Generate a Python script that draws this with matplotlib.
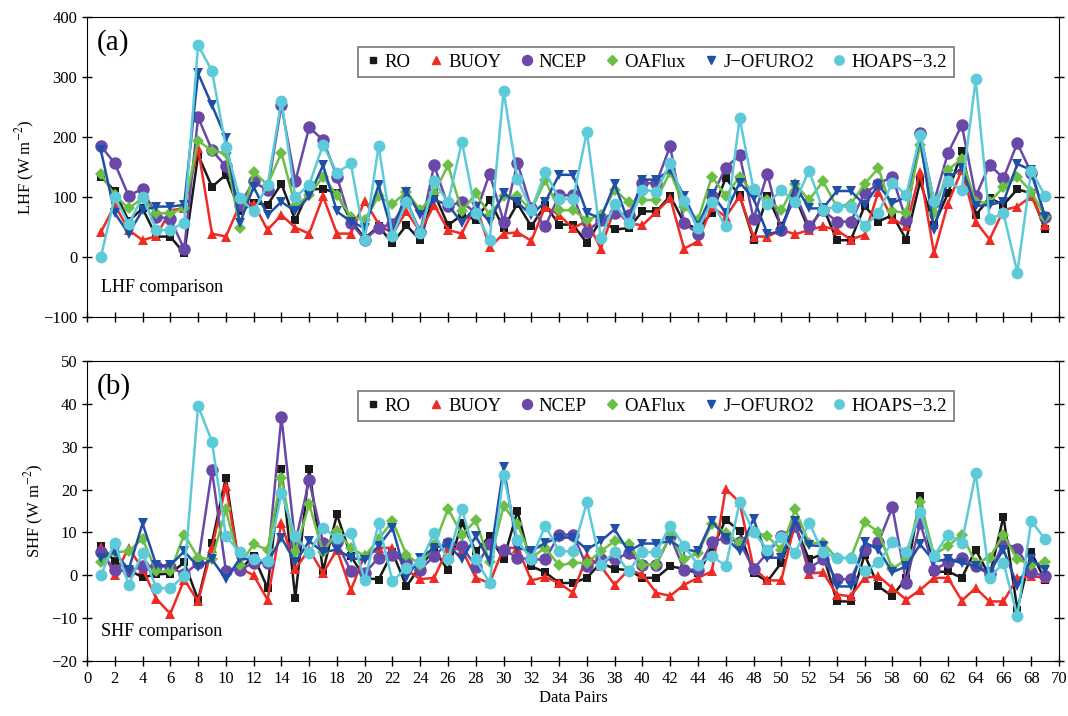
import matplotlib
matplotlib.use("Agg")
import matplotlib.pyplot as plt
from matplotlib.lines import Line2D

plt.rcParams['font.family'] = ['Liberation Serif', 'DejaVu Serif']
plt.rcParams['mathtext.fontset'] = 'stix'

# data pairs 1..69
pairs = list(range(1, 70))

names = ["RO", "BUOY", "NCEP", "OAFlux", "J\u2212OFURO2", "HOAPS\u22123.2"]

# latent heat flux (W m-2)
ro_lhf = [134, 110, 60, 81, 34, 34, 6, 170, 117, 137, 76, 90, 87, 122, 61, 112, 114, 106, 61, 31,
          51, 23, 53, 28, 106, 53, 70, 62, 95, 48, 89, 51, 87, 54, 54, 23, 62, 46, 48, 76,
          76, 102, 57, 46, 74, 131, 103, 29, 102, 51, 100, 45, 84, 28, 28, 85, 59, 70, 29, 126,
          53, 106, 176, 70, 98, 87, 113, 106, 46]
buoy_lhf = [41, 87, 45, 28, 35, 78, 81, 181, 39, 34, 87, 89, 45, 70, 49, 39, 101, 39, 39, 94,
            55, 39, 76, 42, 87, 45, 39, 87, 16, 39, 41, 27, 84, 70, 48, 60, 14, 81, 56, 53,
            75, 98, 14, 26, 84, 67, 101, 34, 34, 45, 38, 45, 51, 45, 29, 37, 109, 64, 51, 142,
            6, 89, 145, 59, 29, 78, 84, 101, 53]
ncep_lhf = [185, 156, 102, 114, 67, 64, 13, 233, 178, 151, 87, 126, 111, 253, 126, 216, 195, 134, 57, 29,
            49, 55, 94, 42, 153, 85, 92, 73, 139, 59, 157, 81, 51, 103, 103, 42, 62, 74, 70, 123,
            123, 185, 56, 39, 101, 149, 170, 64, 139, 45, 106, 51, 78, 59, 59, 106, 122, 134, 61, 207,
            92, 173, 220, 101, 154, 131, 190, 140, 67]
oaflux_lhf = [138, 103, 81, 98, 73, 73, 81, 194, 177, 173, 49, 142, 120, 174, 85, 103, 134, 103, 67, 62,
              101, 88, 109, 78, 106, 153, 76, 106, 70, 101, 101, 78, 128, 78, 78, 62, 70, 112, 91, 95,
              95, 142, 84, 62, 134, 102, 134, 106, 95, 78, 122, 95, 126, 84, 88, 122, 148, 76, 74, 187,
              73, 145, 164, 91, 91, 117, 134, 109, 67]
jofuro_lhf = [178, 73, 39, 78, 84, 84, 87, 306, 253, 198, 56, 117, 70, 92, 76, 101, 153, 76, 59, 48,
              120, 39, 109, 70, 95, 87, 57, 84, 59, 106, 91, 70, 92, 137, 137, 74, 64, 122, 57, 129,
              129, 145, 102, 52, 105, 74, 124, 98, 39, 42, 120, 81, 81, 110, 110, 87, 120, 90, 100, 198,
              45, 131, 148, 85, 87, 92, 155, 145, 66]
hoaps_lhf = [0, 100, 55, 100, 45, 45, 57, 353, 310, 184, 98, 76, 120, 260, 100, 120, 187, 140, 156, 28,
             185, 35, 92, 40, 126, 91, 192, 73, 29, 277, 130, 78, 142, 97, 96, 209, 31, 89, 56, 112,
             109, 156, 94, 48, 92, 51, 231, 113, 89, 111, 92, 144, 79, 84, 84, 51, 73, 124, 103, 203,
             94, 126, 112, 296, 63, 73, -26, 144, 102]

# sensible heat flux (W m-2)
ro_shf = [6.8, 3.3, 1.3, -0.5, 0.2, 0.4, 3.0, -5.7, 7.6, 22.8, 1.3, 4.5, -3.0, 24.9, -5.3, 24.9, 1.0, 14.2, 4.5, -0.6,
          -1.0, 5.4, -2.6, 2.1, 6.0, 1.2, 12.3, 5.6, 9.1, 3.7, 15.0, 2.1, 0.7, -1.8, -1.8, -0.6, 2.9, 1.5, 1.2, -0.6,
          -0.6, 2.1, 1.5, 0.5, 6.0, 13.0, 10.3, 0.5, -1.4, 2.9, 11.5, 3.7, 5.0, -6.1, -6.1, 4.8, -2.6, -4.9, -0.6, 18.5,
          0.7, 0.9, -0.6, 6.0, -0.2, 13.7, -8.0, 5.4, -1.2]
buoy_shf = [6.5, 0.0, 6.4, 1.5, -5.5, -9.0, -1.0, -6.1, 6.4, 20.9, 1.7, 0.0, -5.7, 12.3, 1.5, 6.0, 0.5, 6.0, -3.5, 4.8,
            6.4, 6.4, 1.3, -0.9, -0.6, 6.4, 6.0, -0.6, -1.8, 6.4, 6.4, -1.2, -0.4, -1.8, -4.1, 4.5, 2.1, -2.2, 1.3, 0.2,
            -4.1, -4.8, -2.2, -0.6, 0.9, 20.2, 17.0, 1.7, -1.2, -1.2, 12.4, 0.4, 0.7, -4.5, -4.9, -0.6, -0.2, -3.0, -5.7, -3.4,
            -0.6, -0.6, -5.9, -3.0, -6.1, -6.1, -0.6, -0.2, -0.6]
ncep_shf = [5.4, 1.3, 0.9, 2.1, 2.1, 2.0, 0.2, 2.9, 24.5, 1.1, 1.3, 2.9, 2.9, 36.9, 7.6, 22.2, 7.6, 7.7, 0.9, 0.5,
            4.1, 4.8, 3.0, 1.3, 4.5, 7.6, 6.8, 2.0, 7.2, 6.0, 4.1, 3.7, 3.7, 9.5, 9.5, 2.1, 3.7, 3.7, 5.2, 2.5,
            2.5, 9.1, 1.3, 1.3, 7.7, 8.8, 7.7, 1.5, 5.2, 9.1, 11.5, 1.7, 3.7, -0.9, -0.9, 6.0, 7.7, 15.9, -1.8, 12.3,
            1.3, 3.0, 4.1, 2.1, 0.2, 7.6, 6.2, 0.7, -0.2]
oaflux_shf = [3.0, 5.4, 5.6, 8.5, 0.9, 0.9, 9.5, 4.1, 3.7, 15.4, 2.5, 7.2, 6.0, 22.8, 5.4, 16.6, 5.4, 10.3, 6.4, 4.5,
              8.4, 12.7, 4.8, 2.5, 7.0, 15.5, 9.5, 12.8, 3.0, 16.2, 11.9, 4.1, 6.4, 2.3, 2.9, 2.9, 5.6, 8.0, 7.2, 2.5,
              2.5, 9.3, 3.7, 5.2, 11.9, 9.9, 7.6, 10.3, 9.1, 6.0, 15.4, 7.5, 7.6, 4.0, 4.0, 12.4, 10.1, 1.5, 3.7, 17.1,
              4.8, 6.8, 9.5, 2.9, 4.1, 9.5, 3.7, 2.5, 3.0]
jofuro_shf = [4.1, 5.4, 1.3, 12.1, 2.3, 2.3, 5.6, 2.0, 3.7, -0.9, 3.8, 3.7, 2.9, 8.8, 3.0, 8.0, 5.4, 6.0, 4.1, 3.5,
              6.8, 11.1, -0.6, 4.1, 6.4, 7.2, 3.7, 9.1, 3.3, 25.2, 6.4, 5.6, 7.6, 8.8, 8.8, 6.0, 8.0, 10.7, 5.6, 7.4,
              7.4, 8.0, 6.0, 5.6, 12.7, 8.8, 5.6, 13.2, 4.1, 4.1, 12.7, 7.0, 6.8, -2.6, -2.6, 7.7, 6.0, 0.7, 2.1, 7.2,
              3.3, 3.7, 2.9, 2.1, 0.7, 6.0, -2.4, 3.7, 1.3]
hoaps_shf = [0.0, 7.6, -2.2, 5.2, -3.0, -3.0, -0.1, 39.5, 31.2, 9.1, 5.4, 3.7, 3.3, 19.1, 9.1, 5.2, 11.0, 8.8, 9.9, -1.2,
             12.1, -1.4, 1.7, 3.0, 9.8, 3.7, 15.5, 3.7, -1.8, 23.4, 8.2, 3.7, 11.6, 5.6, 5.6, 17.0, 2.5, 5.4, 0.9, 5.4,
             5.4, 11.6, 6.8, 2.5, 4.6, 2.1, 17.0, 10.1, 6.0, 9.0, 5.2, 12.3, 5.4, 4.1, 4.1, 0.9, 3.0, 7.7, 5.4, 14.8,
             4.5, 9.5, 7.6, 23.8, -0.6, 2.9, -9.5, 12.7, 8.4]

colors = ["#1a1a1a", "#ee2b25", "#6a48a8", "#6cbf45", "#1f4fa6", "#5ccad9"]
markers = ["s", "^", "o", "D", "v", "o"]
msizes = [6, 7, 9, 6.5, 7, 8.5]


def draw_panel(ax, series, ylim, ystep, ylabel, tag, note):
    for vals, c, m, ms in zip(series, colors, markers, msizes):
        ax.plot(pairs, vals, color=c, marker=m, markersize=ms, linewidth=1.8, markeredgewidth=0)
    ax.set_xlim(0, 70)
    ax.set_ylim(*ylim)
    ax.set_xticks(range(0, 71, 2))
    ax.set_yticks(range(ylim[0], ylim[1] + 1, ystep))
    ax.tick_params(direction='inout', length=7, width=1, labelsize=12, right=True)
    ax.set_ylabel(ylabel, fontsize=12, labelpad=4)
    ax.text(0.01, 0.915, tag, transform=ax.transAxes, fontsize=21, va='center')
    ax.text(0.014, 0.097, note, transform=ax.transAxes, fontsize=13, va='center')

    handles = [Line2D([], [], color=c, marker=m, linestyle='none', markersize=ms * 0.8)
               for c, m, ms in zip(colors, markers, msizes)]
    leg = ax.legend(handles, names, loc='center', bbox_to_anchor=(0.585, 0.85), ncol=6,
                    fontsize=13.5, frameon=True, fancybox=False, edgecolor='#555555',
                    handletextpad=0.2, columnspacing=0.9, borderpad=0.35, handlelength=0.9)
    leg.get_frame().set_linewidth(1.2)


fig = plt.figure(figsize=(10.68, 7.16), dpi=100)
ax1 = fig.add_axes([87 / 1068, 1 - 317 / 716, 972 / 1068, 300 / 716])
ax2 = fig.add_axes([87 / 1068, 1 - 661 / 716, 972 / 1068, 300 / 716])

draw_panel(ax1, [ro_lhf, buoy_lhf, ncep_lhf, oaflux_lhf, jofuro_lhf, hoaps_lhf],
           (-100, 400), 100, "LHF (W m$^{-2}$)", "(a)", "LHF comparison")
draw_panel(ax2, [ro_shf, buoy_shf, ncep_shf, oaflux_shf, jofuro_shf, hoaps_shf],
           (-20, 50), 10, "SHF (W m$^{-2}$)", "(b)", "SHF comparison")

ax1.tick_params(labelbottom=False)
ax2.set_xlabel("Data Pairs", fontsize=12, labelpad=2)

fig.savefig("out.png", dpi=100)
